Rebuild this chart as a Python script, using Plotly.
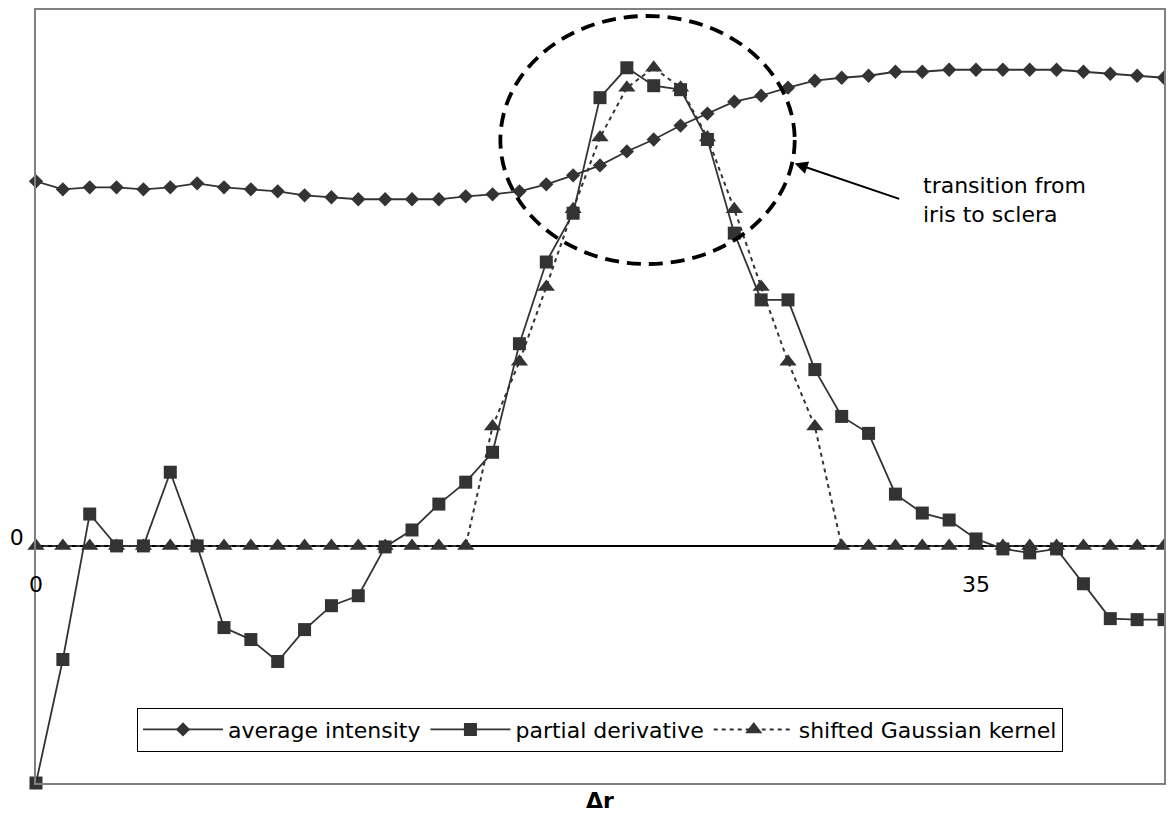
import plotly.graph_objects as go

# x positions (Δr)
x_vals = list(range(43))

# average intensity (arbitrary units, zero at baseline)
avg_intensity = [366, 358, 360, 360, 358, 360, 364, 360, 358, 356, 352, 350, 348, 348,
                 348, 348, 351, 353, 356, 363, 372, 382, 396, 408, 422, 434, 446, 452,
                 460, 467, 470, 472, 476, 476, 478, 478, 478, 478, 478, 476, 474, 472, 470]

# partial derivative
partial_derivative = [-238, -114, 32, 0, 0, 74, 0, -82, -94, -116, -84, -60, -50, -1,
                      16, 42, 64, 94, 203, 285, 334, 450, 480, 462, 458, 408, 314, 247,
                      247, 177, 130, 113, 52, 33, 26, 7, -3, -7, -3, -38, -73, -74, -74]

# shifted Gaussian kernel
gaussian_kernel = [0] * 17 + [120, 185, 260, 338, 410, 460, 480, 460, 410, 338, 260, 185, 120] + [0] * 13

series_names = ["average intensity", "partial derivative", "shifted Gaussian kernel"]
x_tickvals = [0, 35]
x_ticktext = ["0", "35"]
y_tickvals = [0]
y_ticktext = ["0"]

FONT = "DejaVu Sans"
DARK = "#333333"

X_RANGE = [0, 42]
Y_RANGE = [-238, 538]

fig = go.Figure()

fig.add_trace(go.Scatter(
    x=x_vals, y=avg_intensity, name=series_names[0], mode="lines+markers",
    line=dict(color=DARK, width=1.8),
    marker=dict(symbol="diamond", size=11, color=DARK),
    cliponaxis=False,
))
fig.add_trace(go.Scatter(
    x=x_vals, y=partial_derivative, name=series_names[1], mode="lines+markers",
    line=dict(color=DARK, width=1.8),
    marker=dict(symbol="square", size=13, color=DARK),
    cliponaxis=False,
))
fig.add_trace(go.Scatter(
    x=x_vals, y=gaussian_kernel, name=series_names[2], mode="lines+markers",
    line=dict(color=DARK, width=2, dash="4px,4px"),
    marker=dict(symbol="triangle-up", size=15, color=DARK),
    xaxis="x2", yaxis="y", cliponaxis=False,
))

zero_frac = (0 - Y_RANGE[0]) / (Y_RANGE[1] - Y_RANGE[0])

# page body has an 8px default margin, so the figure is sized to fit inside the window
fig.update_layout(
    width=1158, height=805,
    margin=dict(l=28, r=2, t=2, b=30, autoexpand=False),
    paper_bgcolor="white", plot_bgcolor="white",
    font=dict(family=FONT, size=22, color="black"),
    showlegend=True,
    legend=dict(
        orientation="h", x=0.5, xanchor="center", y=0.069, yanchor="middle",
        bordercolor="black", borderwidth=1, bgcolor="white",
        font=dict(family=FONT, size=22, color="black"),
        itemwidth=80, tracegroupgap=0,
    ),
    xaxis=dict(
        range=X_RANGE, showline=True, mirror=True, linecolor="#808080", linewidth=1.5,
        showgrid=False, zeroline=False, showticklabels=False, ticks="", automargin=False,
        title=dict(text="<b>Δr</b>", font=dict(family=FONT, size=22, color="black"), standoff=11),
    ),
    xaxis2=dict(
        range=X_RANGE, overlaying="x", anchor="free", position=zero_frac, side="bottom",
        showline=False, showgrid=False, zeroline=False, ticks="", automargin=False,
        tickvals=x_tickvals, ticktext=x_ticktext, ticklabelstandoff=23,
        tickfont=dict(family=FONT, size=22, color="black"),
    ),
    yaxis=dict(
        range=Y_RANGE, showline=True, mirror=True, linecolor="#808080", linewidth=1.5,
        showgrid=False, zeroline=True, zerolinecolor="black", zerolinewidth=1.5,
        tickvals=y_tickvals, ticktext=y_ticktext, ticks="", ticklabelstandoff=6,
        ticklabelshift=-9, automargin=False,
        tickfont=dict(family=FONT, size=22, color="black"),
    ),
)

# dashed ellipse highlighting the transition
fig.add_shape(type="circle", xref="x", yref="y", x0=17.29, x1=28.25, y0=283, y1=532,
              line=dict(color="black", width=3.8, dash="14px,8px"), layer="above")

# arrow
fig.add_annotation(x=28.25, y=384, xref="x", yref="y", text="", showarrow=True,
                   ax=106, ay=36, arrowhead=2, arrowsize=1.3, arrowwidth=2,
                   arrowcolor="black")
# callout text
fig.add_annotation(x=32.97, y=347, xref="x", yref="y", xanchor="left", yanchor="middle",
                   text="transition from<br>iris to sclera", showarrow=False, align="left",
                   font=dict(family=FONT, size=22, color="black"))

fig.write_html("out.html")
